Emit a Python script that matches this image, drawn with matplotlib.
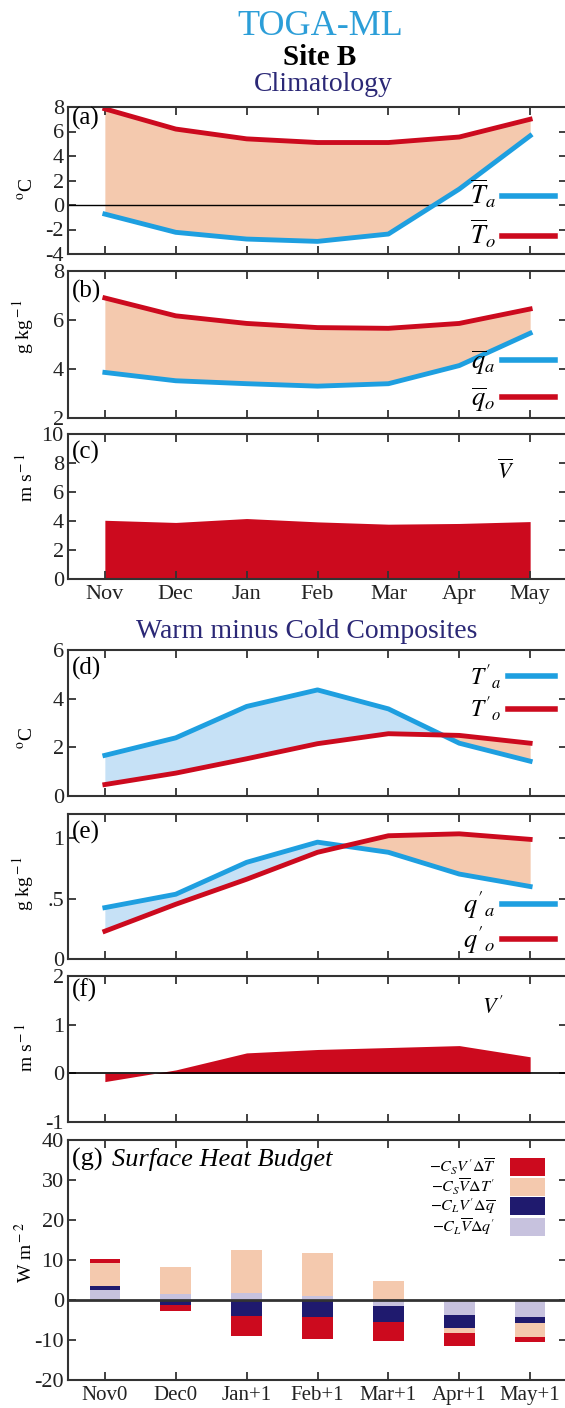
import matplotlib
matplotlib.use('Agg')
import matplotlib.pyplot as plt
from matplotlib.lines import Line2D
from matplotlib.patches import Patch
import numpy as np

plt.rcParams['font.family'] = ['Liberation Serif', 'DejaVu Serif']
plt.rcParams['mathtext.fontset'] = 'stix'
plt.rcParams['axes.unicode_minus'] = False

# ---------------- data ----------------
months = ['Nov', 'Dec', 'Jan', 'Feb', 'Mar', 'Apr', 'May']
months_g = ['Nov0', 'Dec0', 'Jan+1', 'Feb+1', 'Mar+1', 'Apr+1', 'May+1']

Ta_clim = [-0.74, -2.23, -2.78, -2.97, -2.37, 1.30, 5.65]
To_clim = [7.85, 6.20, 5.40, 5.10, 5.10, 5.55, 7.00]
qa_clim = [3.86, 3.52, 3.40, 3.30, 3.40, 4.14, 5.46]
qo_clim = [6.90, 6.17, 5.86, 5.69, 5.66, 5.86, 6.45]
V_clim = [4.05, 3.90, 4.17, 3.94, 3.78, 3.83, 3.96]

Ta_anom = [1.67, 2.39, 3.68, 4.36, 3.58, 2.17, 1.43]
To_anom = [0.47, 0.94, 1.53, 2.15, 2.56, 2.49, 2.17]
qa_anom = [0.425, 0.536, 0.80, 0.967, 0.883, 0.703, 0.60]
qo_anom = [0.23, 0.453, 0.66, 0.883, 1.02, 1.036, 0.99]
V_anom = [-0.17, 0.07, 0.42, 0.49, 0.53, 0.57, 0.34]

# surface heat budget components (W m-2)
cl_vbar_dqp = [2.5, 1.4, 1.8, 1.1, -1.5, -3.75, -4.2]      # lavender
cl_vp_dqbar = [1.0, -1.25, -4.0, -4.3, -4.0, -3.35, -1.5]  # navy
cs_vbar_dTp = [5.7, 6.9, 10.7, 10.7, 4.7, -1.2, -3.5]      # peach
cs_vp_dTbar = [1.0, -1.5, -5.0, -5.4, -4.7, -3.2, -1.2]    # red

# ---------------- style ----------------
RED = '#cc0a1e'
BLUE = '#1e9fe0'
PEACH = '#f4c9ae'
LBLUE = '#c6e1f6'
NAVY = '#1f1a6e'
LAV = '#c7c2de'
TITLEBLUE = '#2c9ed8'
NAVYTXT = '#2b2876'

W, H = 565, 1408
fig = plt.figure(figsize=(W / 100, H / 100), dpi=100)
L, R = 68, 567


def add_ax(top, bot):
    return fig.add_axes([L / W, 1 - bot / H, (R - L) / W, (bot - top) / H])


x = np.arange(len(months))


def style(ax, labels=None, lsize=16):
    ax.set_xlim(-0.52, 6.52)
    ax.set_xticks(x)
    if labels is None:
        ax.set_xticklabels([])
    else:
        ax.set_xticklabels(labels, fontsize=lsize)
    ax.tick_params(direction='in', length=6, width=1.3, top=True, right=True,
                   labelsize=16, pad=3, color='#333', labelcolor='#222')
    ax.tick_params(axis='x', labelsize=lsize, pad=4)
    for s in ax.spines.values():
        s.set_linewidth(1.5)
        s.set_color('#333')


def panel_label(ax, txt, yfrac):
    ax.text(0.008, yfrac, txt, transform=ax.transAxes, fontsize=18,
            ha='left', va='center')


def ylab(ax, txt, yc):
    ax.set_ylabel(txt, fontsize=14)
    ax.yaxis.set_label_coords(-0.064, yc)


def line_legend(ax, labels, yc, fs=19, spacing=0.3):
    handles = [Line2D([], [], color=BLUE, lw=4),
               Line2D([], [], color=RED, lw=4)]
    ax.legend(handles, labels, loc='center right', bbox_to_anchor=(0.976, yc),
              frameon=False, markerfirst=False, fontsize=fs, handlelength=2.0,
              handletextpad=0.25, borderpad=0, borderaxespad=0,
              labelspacing=spacing)


# titles
fig.text(0.566, 1 - 35 / H, 'TOGA-ML', color=TITLEBLUE, fontsize=26,
         ha='center', va='baseline')
fig.text(0.566, 1 - 65 / H, 'Site B', color='black', fontsize=21,
         fontweight='bold', ha='center', va='baseline')
fig.text(0.572, 1 - 91 / H, 'Climatology', color=NAVYTXT, fontsize=20,
         ha='center', va='baseline')
fig.text(0.543, 1 - 638 / H, 'Warm minus Cold Composites', color=NAVYTXT,
         fontsize=20, ha='center', va='baseline')

# (a)
ax = add_ax(107, 254)
style(ax)
ax.fill_between(x, Ta_clim, To_clim, color=PEACH, lw=0)
ax.axhline(0, xmax=0.81, color='black', lw=1)
ax.plot(x, Ta_clim, color=BLUE, lw=3.5)
ax.plot(x, To_clim, color=RED, lw=3.5)
ax.set_ylim(-4, 8)
ax.set_yticks(np.arange(-4, 9, 2))
panel_label(ax, '(a)', 0.92)
ylab(ax, r'$^{\rm o}$C', 0.44)
line_legend(ax, [r'$\overline{T}_a$', r'$\overline{T}_o$'], 0.27)

# (b)
ax = add_ax(271, 418)
style(ax)
ax.fill_between(x, qa_clim, qo_clim, color=PEACH, lw=0)
ax.plot(x, qa_clim, color=BLUE, lw=3.5)
ax.plot(x, qo_clim, color=RED, lw=3.5)
ax.set_ylim(2, 8)
ax.set_yticks([2, 4, 6, 8])
panel_label(ax, '(b)', 0.86)
ylab(ax, r'g kg$^{\rm -1}$', 0.62)
line_legend(ax, [r'$\overline{q}_a$', r'$\overline{q}_o$'], 0.25)

# (c)
ax = add_ax(434, 579)
style(ax, months)
ax.fill_between(x, 0, V_clim, color=RED, lw=0)
ax.set_ylim(0, 10)
ax.set_yticks(np.arange(0, 11, 2))
panel_label(ax, '(c)', 0.87)
ylab(ax, r'm s$^{\rm -1}$', 0.7)
ax.text(0.878, 0.74, r'$\overline{V}$', transform=ax.transAxes, fontsize=16,
        ha='center', va='center')

# (d)
ax = add_ax(650, 796)
style(ax)
Ta_a = np.array(Ta_anom)
To_a = np.array(To_anom)
ax.fill_between(x, Ta_a, To_a, where=Ta_a >= To_a, interpolate=True,
                color=LBLUE, lw=0)
ax.fill_between(x, Ta_a, To_a, where=Ta_a <= To_a, interpolate=True,
                color=PEACH, lw=0)
ax.plot(x, Ta_anom, color=BLUE, lw=3.5)
ax.plot(x, To_anom, color=RED, lw=3.5)
ax.set_ylim(0, 6)
ax.set_yticks([0, 2, 4, 6])
panel_label(ax, '(d)', 0.875)
ylab(ax, r'$^{\rm o}$C', 0.4)
line_legend(ax, [r"$T'_a$", r"$T'_o$"], 0.71, fs=17, spacing=0.15)

# (e)
ax = add_ax(814, 959)
style(ax)
qa_a = np.array(qa_anom)
qo_a = np.array(qo_anom)
ax.fill_between(x, qa_a, qo_a, where=qa_a >= qo_a, interpolate=True,
                color=LBLUE, lw=0)
ax.fill_between(x, qa_a, qo_a, where=qa_a <= qo_a, interpolate=True,
                color=PEACH, lw=0)
ax.plot(x, qa_anom, color=BLUE, lw=3.5)
ax.plot(x, qo_anom, color=RED, lw=3.5)
ax.set_ylim(0, 1.2)
ax.set_yticks([0, 0.5, 1])
ax.set_yticklabels(['0', '.5', '1'])
panel_label(ax, '(e)', 0.87)
ylab(ax, r'g kg$^{\rm -1}$', 0.52)
line_legend(ax, [r"$q'_a$", r"$q'_o$"], 0.25, fs=19, spacing=0.12)

# (f)
ax = add_ax(976, 1122)
style(ax)
ax.fill_between(x, 0, V_anom, color=RED, lw=0)
ax.axhline(0, color='black', lw=1.2)
ax.set_ylim(-1, 2)
ax.set_yticks([-1, 0, 1, 2])
panel_label(ax, '(f)', 0.9)
ylab(ax, r'm s$^{\rm -1}$', 0.51)
ax.text(0.852, 0.78, r"$V'$", transform=ax.transAxes, fontsize=16,
        ha='center', va='center')

# (g)
ax = add_ax(1140, 1380)
style(ax, months_g, lsize=15)
comps = [np.array(cl_vbar_dqp), np.array(cl_vp_dqbar),
         np.array(cs_vbar_dTp), np.array(cs_vp_dTbar)]
cols = [LAV, NAVY, PEACH, RED]
pos = np.zeros(len(x))
neg = np.zeros(len(x))
for c, col in zip(comps, cols):
    bottom = np.where(c >= 0, pos, neg)
    ax.bar(x, c, width=0.43, bottom=bottom, color=col, lw=0)
    pos = pos + np.where(c > 0, c, 0)
    neg = neg + np.where(c < 0, c, 0)
ax.axhline(0, color='#333', lw=2)
ax.set_ylim(-20, 40)
ax.set_yticks(np.arange(-20, 41, 10))
ax.text(0.008, 0.917, '(g) ', transform=ax.transAxes, fontsize=19,
        ha='left', va='center')
ax.text(0.088, 0.917, 'Surface Heat Budget', transform=ax.transAxes,
        fontsize=19, style='italic', ha='left', va='center')
ylab(ax, r'W m$^{\rm -2}$', 0.53)
ghandles = [Patch(color=RED, lw=0), Patch(color=PEACH, lw=0),
            Patch(color=NAVY, lw=0), Patch(color=LAV, lw=0)]
glabels = [r"$-C_S V'\Delta\overline{T}$", r"$-C_S \overline{V}\Delta T'$",
           r"$-C_L V'\Delta\overline{q}$", r"$-C_L \overline{V}\Delta q'$"]
ax.legend(ghandles, glabels, loc='center right', bbox_to_anchor=(0.956, 0.7625),
          frameon=False, markerfirst=False, fontsize=11.5, handlelength=2.2,
          handleheight=1.35, handletextpad=0.9, borderpad=0, borderaxespad=0,
          labelspacing=0.0)

fig.savefig('out.png', dpi=100)
